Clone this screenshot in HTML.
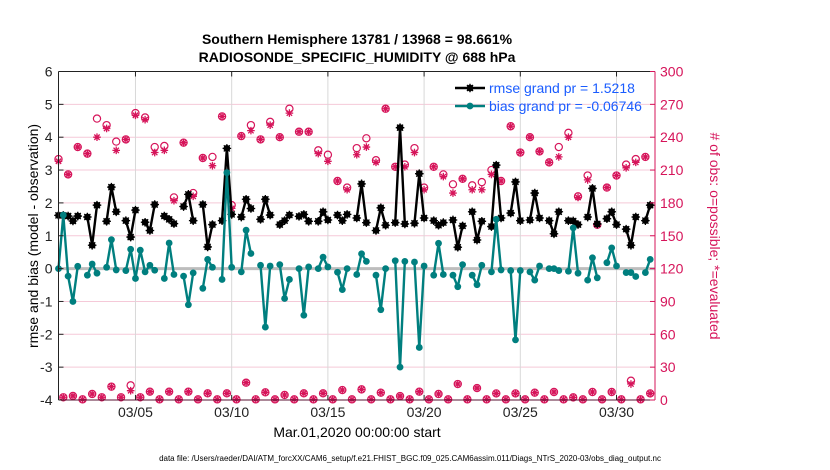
<!DOCTYPE html>
<html><head><meta charset="utf-8">
<style>
body{margin:0;background:#fff;}
svg{display:block;font-family:"Liberation Sans",sans-serif;}
</style></head>
<body>
<svg id="chart" width="830" height="470" viewBox="0 0 830 470">
<text x="357" y="44" text-anchor="middle" font-size="14" font-weight="bold">Southern Hemisphere 13781 / 13968 = 98.661%</text>
<text x="357" y="62" text-anchor="middle" font-size="14" font-weight="bold">RADIOSONDE_SPECIFIC_HUMIDITY @ 688 hPa</text>
<text transform="translate(38,236) rotate(-90)" text-anchor="middle" font-size="14">rmse and bias (model - observation)</text>
<text transform="translate(710,236) rotate(90)" text-anchor="middle" font-size="14" fill="#d6145a"># of obs: o=possible; *=evaluated</text>
<text x="357" y="437" text-anchor="middle" font-size="14">Mar.01,2020 00:00:00 start</text>
<text x="410" y="461" text-anchor="middle" font-size="8">data file: /Users/raeder/DAI/ATM_forcXX/CAM6_setup/f.e21.FHIST_BGC.f09_025.CAM6assim.011/Diags_NTrS_2020-03/obs_diag_output.nc</text>
<g id="plot"></g>
</svg>
<script>
const N = null;
const rmse = [1.62,1.62,1.6,1.45,1.6,N,1.57,0.71,1.93,N,1.44,2.48,1.73,N,1.46,0.96,1.78,N,1.41,1.16,1.95,N,1.6,1.5,1.37,N,1.89,2.26,1.46,N,1.95,0.66,1.34,N,1.46,3.66,1.65,N,1.57,2.11,1.83,N,1.5,2.11,1.63,N,1.34,1.46,1.63,N,1.59,1.65,1.44,N,1.44,1.73,1.48,N,1.63,1.46,1.65,N,1.54,2.58,1.4,N,1.16,1.85,1.32,N,1.4,4.29,1.36,N,1.38,2.89,1.54,N,1.46,1.32,1.4,N,1.48,0.65,1.3,N,1.73,0.87,1.44,N,1.28,3.15,1.54,N,1.69,2.64,1.46,N,1.48,2.3,1.54,N,1.46,1.06,1.73,N,1.46,1.45,1.34,N,1.57,2.44,1.36,N,1.52,1.73,1.34,N,1.2,0.71,1.57,N,1.46,1.93];
const bias = [0,1.63,-0.23,-1.0,0.07,N,-0.2,0.14,-0.14,N,0.04,0.88,-0.04,N,-0.06,0.59,-0.3,0.56,-0.1,0.1,-0.05,N,-0.3,0.78,-0.18,N,-0.23,-1.1,-0.13,N,-0.6,0.28,0.04,N,-0.33,2.92,0.04,N,-0.1,1.17,0.46,N,0.1,-1.78,0.08,N,0.12,-0.91,-0.33,N,0,-1.42,0.05,N,0,0.35,0.05,N,-0.11,-0.64,0,N,-0.18,0.45,0.22,N,-0.2,-1.25,0,N,0.24,-3.0,0.22,N,0.2,-2.4,0.08,N,-0.2,0.77,-0.18,N,-0.2,-0.55,0.12,N,-0.2,-0.49,0.1,N,-0.1,1.5,-0.04,N,-0.06,-2.17,-0.06,N,-0.1,-0.35,0.08,N,0,0,-0.06,N,-0.08,1.24,-0.14,N,-0.35,0.33,-0.28,N,0.18,0.63,0.08,N,-0.12,-0.12,-0.24,N,-0.12,0.28];
const possible = [220,2.5,206,3.7,231,0.6,225,5.5,257,2.5,251,12.2,236,2.5,238,13.4,262,2.5,258,7.6,231,0.6,232,7.6,185,0.6,235,7.6,189,0.6,221,6.1,222,0.6,259,6.1,178,0.6,241,15.8,251,0.6,238,7,254,0.6,240,4.6,266,0.6,245,6.1,245,0.6,228,6.1,224,0.6,200,9.1,194,0.6,230,9.7,239,0.6,219,6.7,266,0.6,213,3.6,215,0.6,230,7.6,194,0.6,213,5.5,206,0.6,197,14.6,202,0.6,196,10.9,199,0.6,210,6,200,0.6,250,6,226,0.6,240,6.7,227,0.6,217,7.3,231,0.6,244,2.4,186,0.6,205,7.3,160,0.6,194,7.3,205,0.6,215,17.6,220,0.6,222,6];
const evaluated = [218,2.5,206,3.7,231,0.6,225,5.5,240,2.5,248,12.2,228,2.5,238,8.5,260,2.5,256,7.6,226,0.6,228,7.6,182,0.6,235,7.6,186,0.6,221,6.1,214,0.6,259,6.1,175,0.6,241,15.8,246,0.6,238,7,251,0.6,240,4.6,262,0.6,245,6.1,245,0.6,225,6.1,218,0.6,200,9.1,192,0.6,224,9.7,231,0.6,217,6.7,266,0.6,213,3.6,213,0.6,226,7.6,192,0.6,213,5.5,204,0.6,189,14.6,202,0.6,192,10.9,192,0.6,206,6,200,0.6,250,6,226,0.6,240,6.7,227,0.6,217,7.3,222,0.6,240,2.4,185,0.6,201,7.3,160,0.6,194,7.3,205,0.6,212,14.6,217,0.6,222,6];
const yTicks = [-4,-3,-2,-1,0,1,2,3,4,5,6];
const y2Ticks = [0,30,60,90,120,150,180,210,240,270,300];
const xTickDays = [4,9,14,19,24,29];
const xTickLabels = ["03/05","03/10","03/15","03/20","03/25","03/30"];
const legendLabels = ["rmse grand pr = 1.5218","bias grand pr = -0.06746"];

const L=58.5, R=655, T=71.5, B=400;
const xS = d => L + d/31*(R-L);
const xI = i => xS(i*0.25);
const yS = v => B - (v+4)/10*(B-T);
const y2S = v => B - v/300*(B-T);
const NS="http://www.w3.org/2000/svg";
const g=document.getElementById('plot');
function el(tag,attrs,parent){const e=document.createElementNS(NS,tag);for(const k in attrs)e.setAttribute(k,attrs[k]);(parent||g).appendChild(e);return e;}
const CR="#d6145a", TEAL="#007f7f";

yTicks.forEach(v=>{if(v>-4&&v<6){
 const ln=el('line',{x1:L,x2:R,y1:yS(v),y2:yS(v),stroke:"#f5c9d8","stroke-width":1});
 
 
}});
xTickDays.forEach(d=>{
 const ln=el('line',{x1:xS(d),x2:xS(d),y1:T,y2:B,stroke:"#d8d8d8","stroke-width":1});
 
 
});
const zl=el('line',{x1:L,x2:R,y1:yS(0),y2:yS(0),stroke:"#bdbdbd","stroke-width":3});



function star(cx,cy,r,parent){
 let d="";
 for(let k=0;k<4;k++){const a=k*Math.PI/4;d+=`M${cx-r*Math.cos(a)},${cy-r*Math.sin(a)}L${cx+r*Math.cos(a)},${cy+r*Math.sin(a)}`;}
 return el('path',{d:d,stroke:parent.c,"stroke-width":1.3,fill:"none"},parent.g);
}
const cg=el('g',{});


possible.forEach((v,i)=>{
 const c=el('circle',{cx:xI(i),cy:y2S(v),r:3.6,fill:"none",stroke:CR,"stroke-width":1.2},cg);
 
 
});
evaluated.forEach((v,i)=>{
 const s=star(xI(i),y2S(v),3.8,{g:cg,c:CR});
 
 
});

function series(arr,color,name,withStar){
 const sg=el('g',{});
 
 
 let d="",pen=false;
 arr.forEach((v,i)=>{if(v===null){pen=false;return;}d+=(pen?"L":"M")+xI(i)+","+yS(v);pen=true;});
 const p=el('path',{d:d,stroke:color,"stroke-width":2.4,fill:"none","stroke-linejoin":"round"},sg);
 
 
 arr.forEach((v,i)=>{if(v===null)return;
  const c=el('circle',{cx:xI(i),cy:yS(v),r:3.4,fill:color},sg);
  
  
  if(withStar){star(xI(i),yS(v),4.3,{g:sg,c:color});}
 });
}
series(rmse,"#000","rmse",true);
series(bias,TEAL,"bias",false);

const fr=el('g',{});


el('line',{x1:L,x2:R,y1:T,y2:T,stroke:"#222","stroke-width":1},fr);
el('line',{x1:L,x2:R,y1:B,y2:B,stroke:"#5a1030","stroke-width":1},fr);
el('line',{x1:L,x2:L,y1:T,y2:B,stroke:"#222","stroke-width":1},fr);
el('line',{x1:R,x2:R,y1:T,y2:B,stroke:CR,"stroke-width":1},fr);

yTicks.forEach(v=>{
 el('line',{x1:L,x2:L+5,y1:yS(v),y2:yS(v),stroke:"#222"},fr);
 const t=el('text',{x:L-6,y:yS(v)+5,"text-anchor":"end","font-size":14,fill:"#222"});
 t.textContent=v;
 
 
});
y2Ticks.forEach(v=>{
 el('line',{x1:R-5,x2:R,y1:y2S(v),y2:y2S(v),stroke:CR},fr);
 const t=el('text',{x:R+5,y:y2S(v)+5,"font-size":14,fill:CR});
 t.textContent=v;
 
 
});
xTickDays.forEach((d,k)=>{
 el('line',{x1:xS(d),x2:xS(d),y1:B-5,y2:B,stroke:"#222"},fr);
 el('line',{x1:xS(d),x2:xS(d),y1:T,y2:T+5,stroke:"#222"},fr);
 const t=el('text',{x:xS(d),y:417,"text-anchor":"middle","font-size":14,fill:"#222"});
 t.textContent=xTickLabels[k];
 
 
});

const lg=el('g',{});


[["#000",true],[TEAL,false]].forEach((s,k)=>{
 const y=88+k*18;
 el('line',{x1:455,x2:485,y1:y,y2:y,stroke:s[0],"stroke-width":2.4},lg);
 el('circle',{cx:470,cy:y,r:3.4,fill:s[0]},lg);
 if(s[1])star(470,y,4.3,{g:lg,c:s[0]});
 const t=el('text',{x:489,y:y+5,"font-size":14,fill:"#1a5cff"},lg);
 t.textContent=legendLabels[k];
 
 
});
</script>
</body></html>
